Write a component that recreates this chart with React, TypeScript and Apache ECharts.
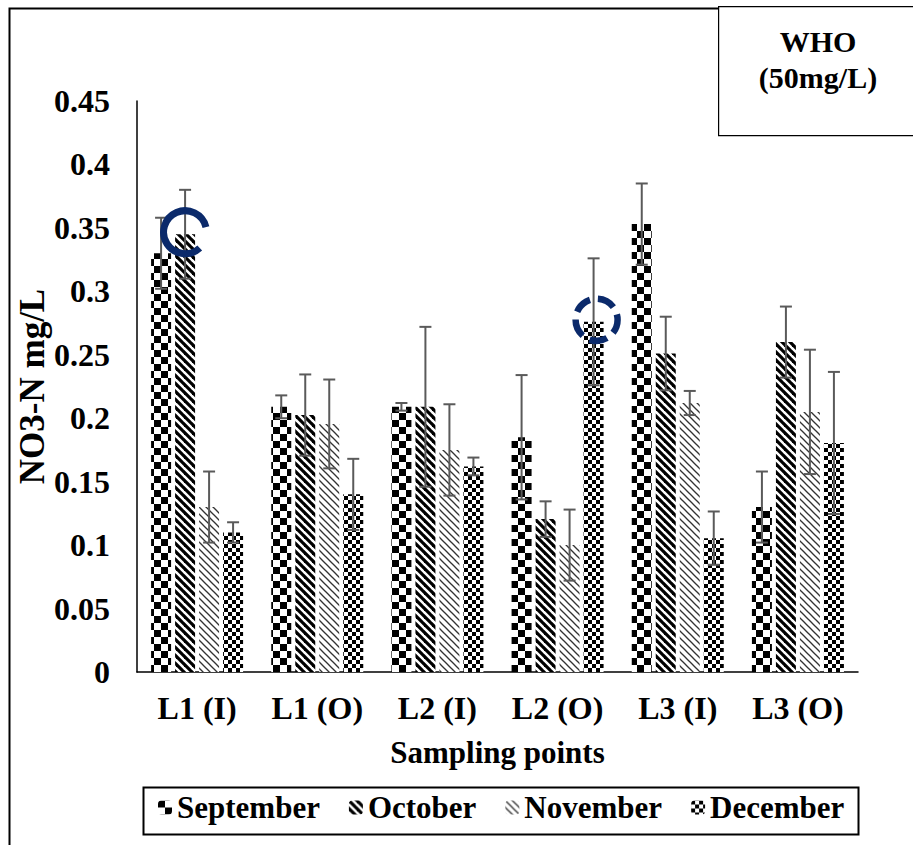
import React, { useEffect, useRef } from "react";
import * as echarts from "echarts";

// Sampling points along the x axis and the four sampling months
const samplingPoints = ["L1 (I)", "L1 (O)", "L2 (I)", "L2 (O)", "L3 (I)", "L3 (O)"];
const months = ["September", "October", "November", "December"];

// Mean NO3-N concentration (mg/L) per sampling point
const september = [0.33, 0.209, 0.209, 0.185, 0.353, 0.13];
const october = [0.345, 0.2025, 0.209, 0.1205, 0.251, 0.26];
const november = [0.13, 0.1955, 0.175, 0.1, 0.212, 0.205];
const december = [0.11, 0.14, 0.162, 0.276, 0.1055, 0.1805];

// Standard deviation (error bar half-length)
const septemberErr = [0.028, 0.009, 0.003, 0.049, 0.032, 0.028];
const octoberErr = [0.035, 0.032, 0.063, 0.014, 0.029, 0.028];
const novemberErr = [0.028, 0.035, 0.036, 0.028, 0.0095, 0.049];
const decemberErr = [0.008, 0.028, 0.007, 0.05, 0.021, 0.056];

// Y axis ticks
const yMin = 0;
const yMax = 0.45;
const yStep = 0.05;

// Marked values: [sampling point index, month index, dashed ring?]
const markedPoints = [
  [0, 1, 0],
  [3, 3, 1],
];

const FONT = "'Liberation Serif', 'Times New Roman', serif";
const BAR_WIDTH = 20;
const BAR_GAP = 0.2;

function tile(size: number, draw: (ctx: CanvasRenderingContext2D, s: number) => void) {
  const c = document.createElement("canvas");
  c.width = size;
  c.height = size;
  const ctx = c.getContext("2d")!;
  ctx.fillStyle = "#ffffff";
  ctx.fillRect(0, 0, size, size);
  ctx.fillStyle = "#000000";
  ctx.strokeStyle = "#000000";
  draw(ctx, size);
  return c;
}

function checker(cell: number) {
  return tile(cell * 2, (ctx) => {
    ctx.fillRect(0, 0, cell, cell);
    ctx.fillRect(cell, cell, cell, cell);
  });
}

function diagonal(size: number, width: number, color: string) {
  return tile(size, (ctx, s) => {
    ctx.strokeStyle = color;
    ctx.lineWidth = width;
    for (let k = -1; k <= 1; k++) {
      ctx.beginPath();
      ctx.moveTo(-2, -2 + k * s);
      ctx.lineTo(s + 2, s + 2 + k * s);
      ctx.stroke();
    }
  });
}

function buildPatterns() {
  return [
    { image: checker(7), repeat: "repeat" },
    { image: diagonal(8, 3.2, "#000"), repeat: "repeat" },
    { image: diagonal(7, 1.3, "#333"), repeat: "repeat" },
    { image: checker(4), repeat: "repeat" },
  ];
}

export default function App() {
  const ref = useRef<HTMLDivElement>(null);

  useEffect(() => {
    if (!ref.current) return;
    const chart = echarts.init(ref.current, undefined, { renderer: "svg" });
    const patterns = buildPatterns();
    const values = [september, october, november, december];
    const errors = [septemberErr, octoberErr, novemberErr, decemberErr];
    const slot = BAR_WIDTH * (1 + BAR_GAP);
    const offsetOf = (m: number) => (m - (months.length - 1) / 2) * slot;

    const barSeries = months.map((name, m) => ({
      name,
      type: "bar",
      barWidth: BAR_WIDTH,
      barGap: `${BAR_GAP * 100}%`,
      itemStyle: { color: patterns[m] },
      data: values[m],
      z: 2,
    }));

    const errorSeries = months.map((name, m) => ({
      name: `${name} SD`,
      type: "custom",
      z: 5,
      silent: true,
      encode: { x: 0, y: 1 },
      data: samplingPoints.map((_, i) => [i, values[m][i], errors[m][i]]),
      renderItem: (_params: any, api: any) => {
        const cat = api.value(0);
        const v = api.value(1);
        const e = api.value(2);
        const hi = api.coord([cat, v + e]);
        const lo = api.coord([cat, v - e]);
        const x = hi[0] + offsetOf(m);
        const style = { stroke: "#5a5a5a", lineWidth: 2 };
        return {
          type: "group",
          children: [
            { type: "line", shape: { x1: x, y1: hi[1], x2: x, y2: lo[1] }, style },
            { type: "line", shape: { x1: x - 6, y1: hi[1], x2: x + 6, y2: hi[1] }, style },
            { type: "line", shape: { x1: x - 6, y1: lo[1], x2: x + 6, y2: lo[1] }, style },
          ],
        };
      },
    }));

    const markSeries = {
      name: "marks",
      type: "custom",
      z: 6,
      silent: true,
      encode: { x: 0, y: 1 },
      data: markedPoints.map(([p, m, dashed]) => [p, values[m][p], m, dashed]),
      renderItem: (_params: any, api: any) => {
        const cat = api.value(0);
        const v = api.value(1);
        const m = api.value(2);
        const dashed = api.value(3) === 1;
        const c = api.coord([cat, v]);
        const cx = c[0] + offsetOf(m) + (dashed ? 3 : 0);
        const cy = c[1] - 2;
        if (dashed) {
          return {
            type: "circle",
            shape: { cx, cy, r: 21 },
            style: {
              fill: "none",
              stroke: "#0b2a6b",
              lineWidth: 6.5,
              lineDash: [18, 8],
              lineDashOffset: 4,
            },
          };
        }
        return {
          type: "arc",
          shape: {
            cx,
            cy,
            r: 21.5,
            startAngle: (47 * Math.PI) / 180,
            endAngle: (346 * Math.PI) / 180,
            clockwise: true,
          },
          style: { fill: "none", stroke: "#0b2a6b", lineWidth: 7 },
        };
      },
    };

    chart.setOption({
      animation: false,
      backgroundColor: "#ffffff",
      textStyle: { fontFamily: FONT },
      grid: { left: 137, top: 101, width: 721, height: 571, containLabel: false },
      legend: {
        data: months,
        left: 158,
        top: 792,
        padding: 0,
        itemWidth: 14,
        itemHeight: 14,
        itemGap: 29,
        textStyle: { fontFamily: FONT, fontWeight: "bold", fontSize: 31, color: "#000" },
      },
      xAxis: {
        type: "category",
        data: samplingPoints,
        name: "Sampling points",
        nameLocation: "middle",
        nameGap: 65,
        nameMoveOverlap: false,
        nameTextStyle: { fontFamily: FONT, fontWeight: "bold", fontSize: 31, color: "#000" },
        axisLine: { lineStyle: { color: "#000", width: 1.5 } },
        axisTick: { show: false },
        axisLabel: {
          margin: 20,
          fontFamily: FONT,
          fontWeight: "bold",
          fontSize: 32,
          color: "#000",
        },
      },
      yAxis: {
        type: "value",
        min: yMin,
        max: yMax,
        interval: yStep,
        name: "NO3-N mg/L",
        nameLocation: "middle",
        nameRotate: 90,
        nameGap: 87,
        nameMoveOverlap: false,
        nameTextStyle: { fontFamily: FONT, fontWeight: "bold", fontSize: 35, color: "#000" },
        axisLine: { show: true, lineStyle: { color: "#000", width: 1.5 } },
        axisTick: { show: false },
        splitLine: { show: false },
        axisLabel: {
          margin: 27,
          fontFamily: FONT,
          fontWeight: "bold",
          fontSize: 32,
          color: "#000",
          formatter: (v: number) => String(Math.round(v * 100) / 100),
        },
      },
      graphic: [
        {
          type: "rect",
          left: 7,
          top: 6,
          shape: { width: 1000, height: 1000 },
          style: { fill: "none", stroke: "#000", lineWidth: 2 },
          silent: true,
        },
        {
          type: "rect",
          left: 718,
          top: 6,
          shape: { width: 300, height: 129 },
          style: { fill: "#fff", stroke: "#000", lineWidth: 1.2 },
          silent: true,
        },
        {
          type: "text",
          x: 818,
          y: 41,
          style: {
            text: "WHO",
            fill: "#000",
            font: `bold 30px ${FONT}`,
            textAlign: "center",
            textVerticalAlign: "middle",
          },
        },
        {
          type: "text",
          x: 818,
          y: 77,
          style: {
            text: "(50mg/L)",
            fill: "#000",
            font: `bold 30px ${FONT}`,
            textAlign: "center",
            textVerticalAlign: "middle",
          },
        },
        {
          type: "rect",
          left: 141,
          top: 785,
          shape: { width: 715, height: 47 },
          style: { fill: "none", stroke: "#000", lineWidth: 2 },
          silent: true,
        },
      ],
      series: [...barSeries, ...errorSeries, markSeries],
    });

    return () => chart.dispose();
  }, []);

  return (
    <div
      ref={ref}
      style={{ position: "absolute", left: 0, top: 0, width: 913, height: 845 }}
    />
  );
}
